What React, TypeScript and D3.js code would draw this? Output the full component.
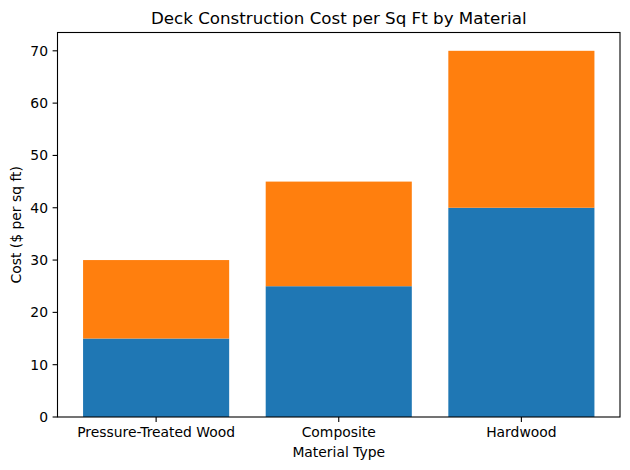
import React from "react";
import * as d3 from "d3";

const categories = ["Pressure-Treated Wood", "Composite", "Hardwood"];
const materialCost = [15, 25, 40];
const laborCost = [15, 20, 30];
const yTicks = [0, 10, 20, 30, 40, 50, 60, 70];

const W = 630;
const H = 470;
const left = 57.5;
const right = 620;
const top = 32.5;
const bottom = 417;
const font = "DejaVu Sans, sans-serif";

export default function App() {
  const x = d3.scaleLinear().domain([-0.54, 2.54]).range([left, right]);
  const y = d3.scaleLinear().domain([0, 73.5]).range([bottom, top]);
  const bw = x(0.4) - x(0);
  return (
    <svg width={W} height={H} style={{ position: "absolute", left: 0, top: 0 }}>
      <rect width={W} height={H} fill="#fff" />
      {categories.map((c, i) => (
        <g key={c}>
          <rect x={x(i) - bw} width={bw * 2} y={y(materialCost[i])} height={y(0) - y(materialCost[i])} fill="#1f77b4" />
          <rect
            x={x(i) - bw}
            width={bw * 2}
            y={y(materialCost[i] + laborCost[i])}
            height={y(materialCost[i]) - y(materialCost[i] + laborCost[i])}
            fill="#ff7f0e"
          />
        </g>
      ))}
      <rect x={left} y={top} width={right - left} height={bottom - top} fill="none" stroke="#000" strokeWidth={1.1} />
      {yTicks.map((t) => (
        <g key={t}>
          <line x1={left} x2={left - 4.9} y1={y(t)} y2={y(t)} stroke="#000" strokeWidth={1.1} />
          <text x={left - 9.5} y={y(t)} dy="0.36em" textAnchor="end" fontFamily={font} fontSize={13.9} fill="#000">
            {t}
          </text>
        </g>
      ))}
      {categories.map((c, i) => (
        <g key={c}>
          <line x1={x(i)} x2={x(i)} y1={bottom} y2={bottom + 4.9} stroke="#000" strokeWidth={1.1} />
          <text x={x(i)} y={437.3} textAnchor="middle" fontFamily={font} fontSize={13.9} fill="#000">
            {c}
          </text>
        </g>
      ))}
      <text x={(left + right) / 2} y={457} textAnchor="middle" fontFamily={font} fontSize={13.9} fill="#000">
        Material Type
      </text>
      <text
        transform={`translate(21,${(top + bottom) / 2}) rotate(-90)`}
        textAnchor="middle"
        fontFamily={font}
        fontSize={13.9}
        fill="#000"
      >
        Cost ($ per sq ft)
      </text>
      <text x={(left + right) / 2} y={24} textAnchor="middle" fontFamily={font} fontSize={16.7} fill="#000">
        Deck Construction Cost per Sq Ft by Material
      </text>
    </svg>
  );
}
